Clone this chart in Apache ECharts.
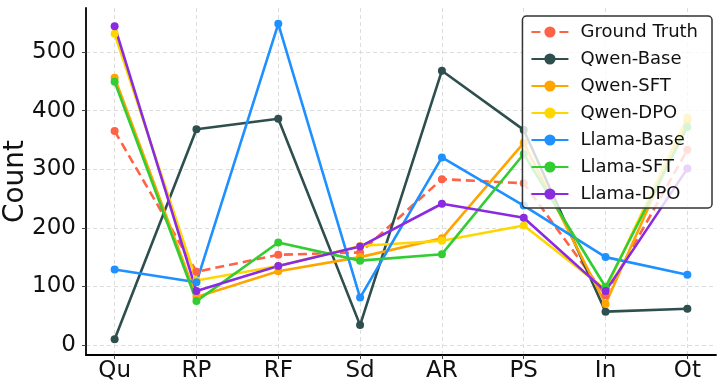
<!DOCTYPE html>
<html>
<head>
<meta charset="utf-8">
<script src="https://cdn.jsdelivr.net/npm/echarts@6/dist/echarts.min.js"></script>
<style>
  html, body { margin: 0; padding: 0; background: #fff; }
  #chart { width: 718px; height: 385px; }
</style>
</head>
<body>
<div id="chart"></div>
<script>
// categories along the x axis
const categories = ['Qu', 'RP', 'RF', 'Sd', 'AR', 'PS', 'In', 'Ot'];
const yTicks = [0, 100, 200, 300, 400, 500];

// counts
const groundTruth = [365, 125, 154, 158, 283, 276, 85, 333];
const qwenBase    = [10, 368, 386, 34, 468, 367, 57, 62];
const qwenSFT     = [456, 82, 126, 150, 182, 345, 70, 384];
const qwenDPO     = [531, 110, 135, 169, 178, 204, 95, 388];
const llamaBase   = [129, 107, 548, 81, 320, 238, 150, 120];
const llamaSFT    = [449, 75, 175, 144, 155, 326, 99, 372];
const llamaDPO    = [544, 92, 135, 168, 241, 217, 92, 301];

const seriesDefs = [
  { name: 'Ground Truth', data: groundTruth, color: '#FF6347', dashed: true },
  { name: 'Qwen-Base', data: qwenBase, color: '#2F4F4F' },
  { name: 'Qwen-SFT', data: qwenSFT, color: '#FFA500' },
  { name: 'Qwen-DPO', data: qwenDPO, color: '#FFD700' },
  { name: 'Llama-Base', data: llamaBase, color: '#1E90FF' },
  { name: 'Llama-SFT', data: llamaSFT, color: '#32CD32' },
  { name: 'Llama-DPO', data: llamaDPO, color: '#8A2BE2' }
];

const font = 'DejaVu Sans';
const xIdx = categories.map((c, i) => i);

const chart = echarts.init(document.getElementById('chart'));

chart.setOption({
  animation: false,
  backgroundColor: '#fff',
  grid: { left: 86, right: 2, top: 8, bottom: 30, containLabel: false, outerBoundsMode: 'none' },
  legend: {
    orient: 'vertical',
    right: 6,
    top: 16,
    padding: [7, 14, 5, 8],
    itemGap: 9,
    itemWidth: 37,
    itemHeight: 14,
    backgroundColor: 'rgba(255,255,255,0.8)',
    borderColor: '#333',
    borderWidth: 1.5,
    borderRadius: 4,
    textStyle: { fontFamily: font, fontSize: 18, color: '#111', lineHeight: 18, padding: [0, 0, 0, 7] },
    data: seriesDefs.map(s => s.name)
  },
  xAxis: {
    type: 'value',
    min: -0.35,
    max: 7.35,
    axisLine: { show: true, onZero: false, lineStyle: { color: '#000', width: 1.8 } },
    axisTick: { show: true, length: 4, customValues: xIdx, lineStyle: { color: '#444' } },
    axisLabel: {
      customValues: xIdx,
      formatter: v => categories[Math.round(v)],
      fontFamily: font, fontSize: 23, color: '#111', margin: 5
    },
    splitLine: { show: true, lineStyle: { color: '#ddd', type: [4, 3], width: 1 } }
  },
  yAxis: {
    type: 'value',
    min: -17,
    max: 575,
    name: 'Count',
    nameLocation: 'middle',
    nameGap: 56,
    nameMoveOverlap: false,
    nameTextStyle: { fontFamily: font, fontSize: 28, color: '#111' },
    axisLine: { show: true, onZero: false, lineStyle: { color: '#000', width: 1.8 } },
    axisTick: { show: true, length: 4, customValues: yTicks, lineStyle: { color: '#444' } },
    axisLabel: { customValues: yTicks, fontFamily: font, fontSize: 23, color: '#111', margin: 10 },
    splitLine: { show: true, lineStyle: { color: '#ddd', type: [4, 3], width: 1 } }
  },
  series: seriesDefs.map(s => ({
    name: s.name,
    type: 'line',
    data: s.data.map((v, i) => [i, v]),
    symbol: 'circle',
    symbolSize: 8,
    color: s.color,
    lineStyle: { width: 2.6, color: s.color, type: s.dashed ? [9, 5] : 'solid' },
    itemStyle: { color: s.color }
  }))
});
</script>
</body>
</html>
